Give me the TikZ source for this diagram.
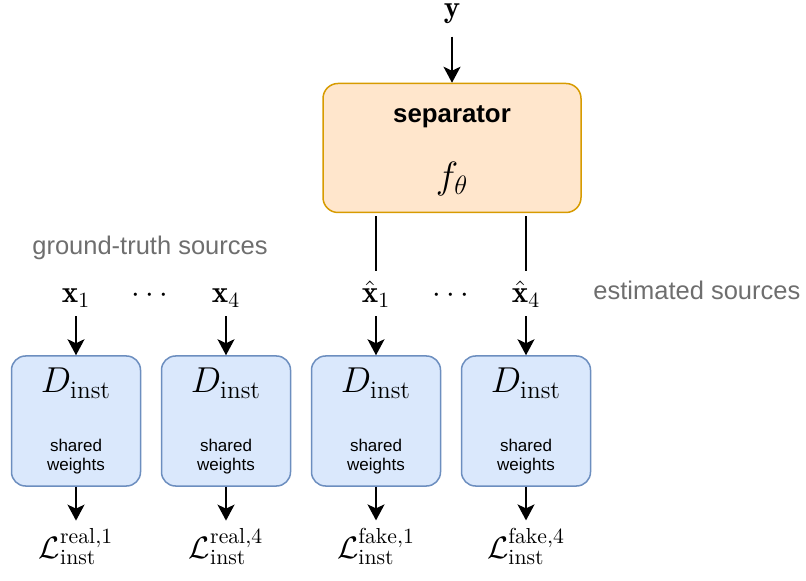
\RequirePackage{fix-cm}
\documentclass[tikz,border=0pt]{standalone}
\usepackage{fontspec}
\setsansfont{Liberation Sans}
\usetikzlibrary{arrows.meta}
\definecolor{sepfill}{HTML}{FFE6CC}
\definecolor{sepdraw}{HTML}{D79B00}
\definecolor{discfill}{HTML}{DAE8FC}
\definecolor{discdraw}{HTML}{6C8EBF}
\definecolor{notegray}{HTML}{6E6E6E}
\newcommand{\Dinst}{D_{\mathrm{inst}}}
\newcommand{\Linst}[2]{\mathcal{L}_{\mathrm{inst}}^{\mathrm{#1},#2}}

\begin{document}
\begin{tikzpicture}[x=0.5pt,y=-0.5pt,
   sepbox/.style={draw=sepdraw,fill=sepfill,line width=0.75pt,rounded corners=7.5pt,
      minimum width=129pt,minimum height=64.5pt,inner sep=0},
   discbox/.style={draw=discdraw,fill=discfill,line width=0.75pt,rounded corners=7pt,
      minimum width=64.5pt,minimum height=65pt,inner sep=0},
   mathlbl/.style={anchor=base,inner sep=0,font=\fontsize{15.5}{18}\selectfont},
   dlbl/.style={anchor=base,inner sep=0,font=\fontsize{18}{21}\selectfont},
   note/.style={anchor=base,inner sep=0,text=notegray,font=\sffamily\fontsize{12.75}{15}\selectfont},
   small/.style={anchor=base,inner sep=0,align=center,font=\sffamily\fontsize{8.5}{9.2}\selectfont},
   flow/.style={-{Stealth[length=8pt,width=8.5pt,inset=2pt]},line width=1pt},
   link/.style={line width=0.7pt}]
\useasboundingbox (0,0) rectangle (806,581);

\node[mathlbl] (y) at (452,18) {$\mathbf{y}$};
\node[sepbox] (sep) at (452,148) {};
\node[anchor=base,inner sep=0,font=\sffamily\bfseries\fontsize{12.9}{15}\selectfont] (septxt) at (452,123) {separator};
\node[dlbl,font=\fontsize{19}{22}\selectfont] (f) at (452,189) {$f_\theta$};

\node[note] (gt) at (150,255) {ground-truth sources};
\node[note,anchor=base west] (est) at (593,300) {estimated sources};

\node[mathlbl] (x1) at (76,303) {$\mathbf{x}_1$};
\node[mathlbl] (dl) at (150,303) {$\cdots$};
\node[mathlbl] (x4) at (226,303) {$\mathbf{x}_4$};
\node[mathlbl] (xh1) at (376,303) {$\hat{\mathbf{x}}_1$};
\node[mathlbl] (dr) at (451,303) {$\cdots$};
\node[mathlbl] (xh4) at (526,303) {$\hat{\mathbf{x}}_4$};

\foreach \n/\xx/\lt/\li in {1/76/real/1,2/226/real/4,3/376/fake/1,4/526/fake/4}{
  \node[discbox] (d\n) at (\xx,421) {};
  \node[dlbl] (dt\n) at (\xx,393) {$\Dinst$};
  \node[small] (sw\n) at (\xx,470) {shared\\weights};
  \node[mathlbl] (l\n) at (\xx,558) {$\Linst{\lt}{\li}$};
  \draw[flow,shorten >=3.5pt] (d\n.south) -- (d\n.south |- l\n.north);
}

\draw[flow,shorten <=6pt] (y.south) -- (sep.north);
\draw[link,shorten <=1.5pt,shorten >=5pt] (sep.south -| xh1) -- (xh1.north);
\draw[link,shorten <=1.5pt,shorten >=5pt] (sep.south -| xh4) -- (xh4.north);
\draw[flow,shorten <=4pt] (x1.south -| d1.north) -- (d1.north);
\draw[flow,shorten <=4pt] (x4.south -| d2.north) -- (d2.north);
\draw[flow,shorten <=4pt] (xh1.south -| d3.north) -- (d3.north);
\draw[flow,shorten <=4pt] (xh4.south -| d4.north) -- (d4.north);
\end{tikzpicture}
\end{document}
